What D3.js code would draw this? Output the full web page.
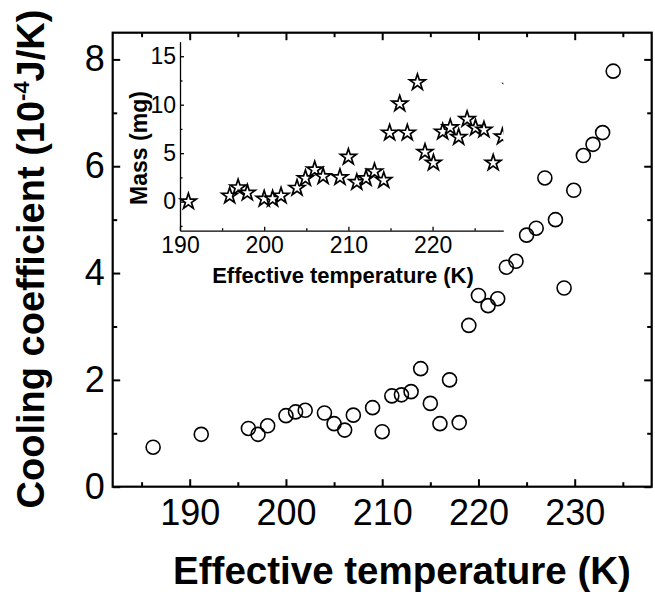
<!DOCTYPE html>
<html>
<head>
<meta charset="utf-8">
<script src="https://cdn.jsdelivr.net/npm/d3@7"></script>
<style>
  html, body { margin: 0; padding: 0; background: #fff; }
  svg text { font-family: "Liberation Sans", Arial, Helvetica, sans-serif; fill: #000; }
</style>
</head>
<body>
<svg id="chart" width="655" height="595"></svg>
<script>
// ---- Main plot data: cooling coefficient (1e-4 J/K) vs effective temperature (K)
const coolT = [186.2, 191.2, 196.1, 197.1, 198.1, 200.0, 201.0, 202.0, 204.0, 205.0, 206.1, 207.0, 209.0, 210.0, 211.0, 212.0, 213.0, 214.0, 215.0, 216.0, 217.0, 218.0, 219.0, 220.0, 221.0, 222.0, 222.9, 223.9, 225.0, 226.0, 226.9, 228.0, 228.9, 229.9, 230.9, 231.9, 232.9, 234.0];
const coolC = [0.74, 0.98, 1.09, 0.98, 1.14, 1.33, 1.40, 1.43, 1.38, 1.18, 1.06, 1.34, 1.48, 1.03, 1.70, 1.72, 1.78, 2.21, 1.56, 1.18, 2.00, 1.20, 3.02, 3.58, 3.39, 3.52, 4.11, 4.22, 4.71, 4.84, 5.78, 5.00, 3.72, 5.55, 6.20, 6.41, 6.63, 7.78];

// ---- Inset data: mass (mg) vs effective temperature (K)
const massT = [191.0, 195.9, 196.9, 198.0, 200.0, 201.0, 202.0, 203.9, 204.9, 206.0, 207.0, 209.0, 210.0, 211.0, 212.1, 213.1, 214.2, 214.9, 216.1, 217.0, 218.2, 219.1, 220.1, 221.2, 222.1, 223.1, 224.1, 225.1, 226.1, 227.2, 228.3, 229.4];
const massM = [0.0, 0.6, 1.45, 0.9, 0.28, 0.28, 0.6, 1.4, 2.4, 3.3, 2.6, 2.5, 4.6, 2.0, 2.4, 3.1, 2.2, 7.1, 10.1, 7.1, 12.3, 5.1, 4.0, 7.2, 7.65, 6.65, 8.5, 7.6, 7.4, 4.0, 6.7, 11.9];

// ---- Tick values
const mainXMajor = [190, 200, 210, 220, 230];
const mainXMinor = [185, 195, 205, 215, 225, 235];
const mainYMajor = [0, 2, 4, 6, 8];
const mainYMinor = [1, 3, 5, 7];
const insetXMajor = [190, 200, 210, 220];
const insetXMinor = [195, 205, 215, 225];
const insetYMajor = [0, 5, 10, 15];
const insetYMinor = [-2.5, 2.5, 7.5, 12.5];

const svg = d3.select("#chart");

// ---- Main scales
const x = d3.scaleLinear().domain([182, 238]).range([112.7, 651.7]);
const y = d3.scaleLinear().domain([0, 8.5]).range([486.7, 32.7]);
const [L, R] = x.range();
const [B, T] = y.range();

function styleAxis(g, w) {
  g.select(".domain").remove();
  g.selectAll(".tick line").attr("stroke", "#000").attr("stroke-width", w);
}

// bottom
svg.append("g").attr("transform", `translate(0,${B})`)
  .call(d3.axisBottom(x).tickValues(mainXMajor).tickSize(-7.5).tickPadding(12.5).tickFormat(d3.format("d")))
  .call(g => styleAxis(g, 2))
  .call(g => g.selectAll("text").attr("font-size", 36).attr("fill", "#000"));
svg.append("g").attr("transform", `translate(0,${B})`)
  .call(d3.axisBottom(x).tickValues(mainXMinor).tickSize(-4.5).tickFormat(""))
  .call(g => styleAxis(g, 2));
// top
svg.append("g").attr("transform", `translate(0,${T})`)
  .call(d3.axisTop(x).tickValues(mainXMajor).tickSize(-7.5).tickFormat(""))
  .call(g => styleAxis(g, 2));
svg.append("g").attr("transform", `translate(0,${T})`)
  .call(d3.axisTop(x).tickValues(mainXMinor).tickSize(-4.5).tickFormat(""))
  .call(g => styleAxis(g, 2));
// left
svg.append("g").attr("transform", `translate(${L},0)`)
  .call(d3.axisLeft(y).tickValues(mainYMajor).tickSize(-7.5).tickPadding(8).tickFormat(d3.format("d")))
  .call(g => styleAxis(g, 2))
  .call(g => g.selectAll("text").attr("font-size", 36).attr("fill", "#000"));
svg.append("g").attr("transform", `translate(${L},0)`)
  .call(d3.axisLeft(y).tickValues(mainYMinor).tickSize(-4.5).tickFormat(""))
  .call(g => styleAxis(g, 2));
// right
svg.append("g").attr("transform", `translate(${R},0)`)
  .call(d3.axisRight(y).tickValues(mainYMajor).tickSize(-7.5).tickFormat(""))
  .call(g => styleAxis(g, 2));
svg.append("g").attr("transform", `translate(${R},0)`)
  .call(d3.axisRight(y).tickValues(mainYMinor).tickSize(-4.5).tickFormat(""))
  .call(g => styleAxis(g, 2));

// frame
svg.append("rect")
  .attr("x", L).attr("y", T).attr("width", R - L).attr("height", B - T)
  .attr("fill", "none").attr("stroke", "#000").attr("stroke-width", 2.2);

// circles
svg.append("g").selectAll("circle")
  .data(coolT.map((t, i) => ({ t, c: coolC[i] })))
  .join("circle")
  .attr("cx", d => x(d.t)).attr("cy", d => y(d.c)).attr("r", 7)
  .attr("fill", "none").attr("stroke", "#000").attr("stroke-width", 1.6);

// axis titles
svg.append("text")
  .attr("x", 402).attr("y", 584).attr("text-anchor", "middle")
  .attr("font-size", 38.5).attr("font-weight", "bold")
  .text("Effective temperature (K)");

const yt = svg.append("text")
  .attr("transform", "translate(44,259) rotate(-90)")
  .attr("text-anchor", "middle")
  .attr("font-size", 38).attr("font-weight", "bold");
yt.append("tspan").text("Cooling coefficient (10");
yt.append("tspan").attr("font-size", 22).attr("dy", -15).text("-4");
yt.append("tspan").attr("dy", 15).text("J/K)");

// ---- Inset
const ix = d3.scaleLinear().domain([190, 228.4]).range([180, 503.3]);
const iy = d3.scaleLinear().domain([-3, 16.5]).range([230.7, 41.7]);

function styleInset(g) {
  g.select(".domain").attr("stroke", "#000").attr("stroke-width", 1.3);
  g.selectAll(".tick line").attr("stroke", "#000").attr("stroke-width", 1.3);
  g.selectAll("text").attr("font-size", 23).attr("fill", "#000");
}

svg.append("g").attr("transform", `translate(0,${iy.range()[0]})`)
  .call(d3.axisBottom(ix).tickValues(insetXMajor).tickSize(-4).tickSizeOuter(0).tickPadding(6).tickFormat(d3.format("d")))
  .call(styleInset);
svg.append("g").attr("transform", `translate(0,${iy.range()[0]})`)
  .call(d3.axisBottom(ix).tickValues(insetXMinor).tickSize(-2.5).tickSizeOuter(0).tickFormat(""))
  .call(styleInset).call(g => g.select(".domain").remove());
svg.append("g").attr("transform", `translate(${ix.range()[0]},0)`)
  .call(d3.axisLeft(iy).tickValues(insetYMajor).tickSize(-4).tickSizeOuter(0).tickPadding(4).tickFormat(d3.format("d")))
  .call(styleInset);
svg.append("g").attr("transform", `translate(${ix.range()[0]},0)`)
  .call(d3.axisLeft(iy).tickValues(insetYMinor).tickSize(-2.5).tickSizeOuter(0).tickFormat(""))
  .call(styleInset).call(g => g.select(".domain").remove());

svg.append("defs").append("clipPath").attr("id", "insetClip")
  .append("rect").attr("x", 150).attr("y", 30).attr("width", ix.range()[1] - 150).attr("height", 220);

const star = d3.symbol().type(d3.symbolStar).size(78);
svg.append("g").attr("clip-path", "url(#insetClip)")
  .selectAll("path")
  .data(massT.map((t, i) => ({ t, m: massM[i] })))
  .join("path")
  .attr("transform", d => `translate(${ix(d.t)},${iy(d.m)})`)
  .attr("d", star)
  .attr("fill", "#fff").attr("stroke", "#000").attr("stroke-width", 1.7).attr("stroke-linejoin", "miter");

svg.append("text")
  .attr("x", 343).attr("y", 283).attr("text-anchor", "middle")
  .attr("font-size", 22).attr("font-weight", "bold")
  .text("Effective temperature (K)");
svg.append("text")
  .attr("transform", "translate(147,148) rotate(-90)")
  .attr("text-anchor", "middle")
  .attr("font-size", 23).attr("font-weight", "bold")
  .text("Mass (mg)");
</script>
</body>
</html>
